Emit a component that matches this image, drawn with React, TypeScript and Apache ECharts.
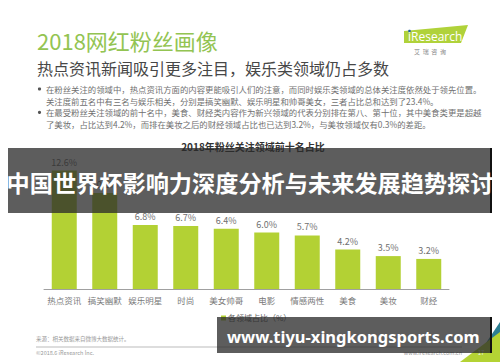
import React, { useEffect, useRef } from "react";
import * as echarts from "echarts";

const categories = ["热点资讯", "搞笑幽默", "娱乐明星", "时尚", "美女帅哥", "电影", "情感两性", "美食", "美妆", "财经"];
const shares = [12.6, 10.2, 6.8, 6.7, 6.4, 6.0, 5.7, 4.2, 3.5, 3.2];
const seriesName = "各领域占比（%）";

const pageTitle = "2018网红粉丝画像";
const pageSubtitle = "热点资讯新闻吸引更多注目，娱乐类领域仍占多数";
const bulletLines = [
  "在粉丝关注的领域中，热点资讯方面的内容更能吸引人们的注意，而同时娱乐类领域的总体关注度依然处于领先位置。",
  "关注度前五名中有三名与娱乐相关，分别是搞笑幽默、娱乐明星和帅哥美女，三者占比总和达到了23.4%。",
  "在最受粉丝关注领域的前十名中，美食、财经类内容作为新兴领域的代表分别排在第八、第十位，其中美食类更是超越",
  "了美妆，占比达到4.2%，而排在美妆之后的财经领域占比也已达到3.2%，与美妆领域仅有0.3%的差距。",
];
const bulletStarts = [0, 2];
const chartTitle = "2018年粉丝关注领域前十名占比";
const bannerText = "中国世界杯影响力深度分析与未来发展趋势探讨";
const siteText = "www.tiyu-xingkongsports.com";
const sourceText = "来源：相关数据来自微博大数据统计。";
const copyrightText = "©2018.6 iResearch Inc.";
const webText = "www.iresearch.com.cn";
const pageNo = "17";

const CJK = "'Noto Sans CJK SC', 'Noto Sans', sans-serif";

export default function App() {
  const ref = useRef<HTMLDivElement>(null);
  useEffect(() => {
    if (!ref.current) return;
    const chart = echarts.init(ref.current, null, { renderer: "svg" });
    const txt = (x: number, y: number, text: string, size: number, fill: string, extra: any = {}, z = 1) => ({
      type: "text",
      x,
      y,
      z,
      style: {
        text,
        fill,
        fontSize: size,
        fontFamily: CJK,
        textAlign: "left",
        textVerticalAlign: "middle",
        ...extra,
      },
    });
    const elements: any[] = [
      txt(37, 40, pageTitle, 22, "#93c452"),
      txt(37, 68, pageSubtitle, 16, "#474747"),
      ...bulletLines.map((l, i) => txt(46, 89 + i * 11.7, l, 8.4, "#707070")),
      ...bulletStarts.map((i) => ({
        type: "circle",
        shape: { cx: 39.5, cy: 89 + i * 11.7, r: 1.6 },
        style: { fill: "#555" },
      })),
      txt(253, 146, chartTitle, 10, "#333", { textAlign: "center", fontWeight: "bold" }),
      // logo
      {
        type: "polygon",
        shape: { points: [[404, 31], [468, 25], [461, 43], [404, 43]] },
        style: { fill: "#b0d23a" },
      },
      txt(408, 36, "iResearch", 12, "#ffffff", { fontFamily: "'Open Sans', sans-serif" }),
      { type: "circle", shape: { cx: 409.5, cy: 31, r: 1.3 }, style: { fill: "#1f5fa8" } },
      txt(430, 51, "艾  瑞  咨  询", 6, "#888", { textAlign: "center" }),
      // footer
      txt(36, 339, sourceText, 5.5, "#999"),
      { type: "line", shape: { x1: 36, y1: 347, x2: 462, y2: 347 }, style: { stroke: "#aaa", lineWidth: 0.8 } },
      txt(36, 353, copyrightText, 5.5, "#999"),
      txt(462, 353, webText, 5.5, "#999", { textAlign: "right" }),
      {
        type: "polygon",
        z: 50,
        shape: { points: [[484, 346], [500, 322], [500, 346]] },
        style: { fill: "#2c7f93" },
      },
      {
        type: "polygon",
        z: 51,
        shape: { points: [[460, 362], [500, 332], [500, 362]] },
        style: { fill: "#b4d334" },
      },
      txt(481, 352, pageNo, 6, "#eeeeee", { textAlign: "center" }, 52),
      // overlays
      {
        type: "rect",
        z: 100,
        shape: { x: 8, y: 148, width: 483, height: 65 },
        style: { fill: "rgba(42,42,42,0.76)" },
      },
      { type: "rect", z: 101, shape: { x: 490, y: 148, width: 2, height: 65 }, style: { fill: "#111" } },
      txt(250, 182, bannerText, 23.2, "#ffffff", { textAlign: "center", fontWeight: "bold" }, 102),
      {
        type: "rect",
        z: 100,
        shape: { x: 217, y: 317, width: 273, height: 36 },
        style: { fill: "rgba(42,42,42,0.76)" },
      },
      { type: "rect", z: 101, shape: { x: 490, y: 317, width: 2, height: 36 }, style: { fill: "#111" } },
      txt(227, 336, siteText, 16.5, "#ffffff", { fontWeight: "bold", fontFamily: "'Noto Sans', sans-serif" }, 102),
    ];
    chart.setOption({
      animation: false,
      backgroundColor: "#ffffff",
      grid: { left: 44, right: 51, top: 157.4, bottom: 73 },
      legend: {
        data: [seriesName],
        left: 216,
        top: 309,
        icon: "rect",
        itemWidth: 5,
        itemHeight: 5,
        itemGap: 2,
        textStyle: { fontSize: 8, color: "#666", fontFamily: CJK, padding: [0, 0, 0, -3] },
      },
      xAxis: {
        type: "category",
        data: categories,
        axisLine: { lineStyle: { color: "#a0a0a0", width: 1 } },
        axisTick: { show: false },
        axisLabel: { fontSize: 8.5, color: "#7a7a7a", margin: 7, fontFamily: CJK, interval: 0 },
      },
      yAxis: { type: "value", min: 0, max: 14, show: false, splitLine: { show: false } },
      series: [
        {
          name: seriesName,
          type: "bar",
          data: shares,
          barWidth: 25,
          itemStyle: { color: "#b3d134" },
          label: {
            show: true,
            position: "top",
            distance: 4,
            formatter: (p: any) => `${Number(p.value).toFixed(1)}%`,
            fontSize: 9,
            color: "#707070",
            fontFamily: CJK,
          },
        },
      ],
      graphic: { elements },
    });
    return () => chart.dispose();
  }, []);
  return <div ref={ref} style={{ position: "absolute", left: 0, top: 0, width: 500, height: 362 }} />;
}
